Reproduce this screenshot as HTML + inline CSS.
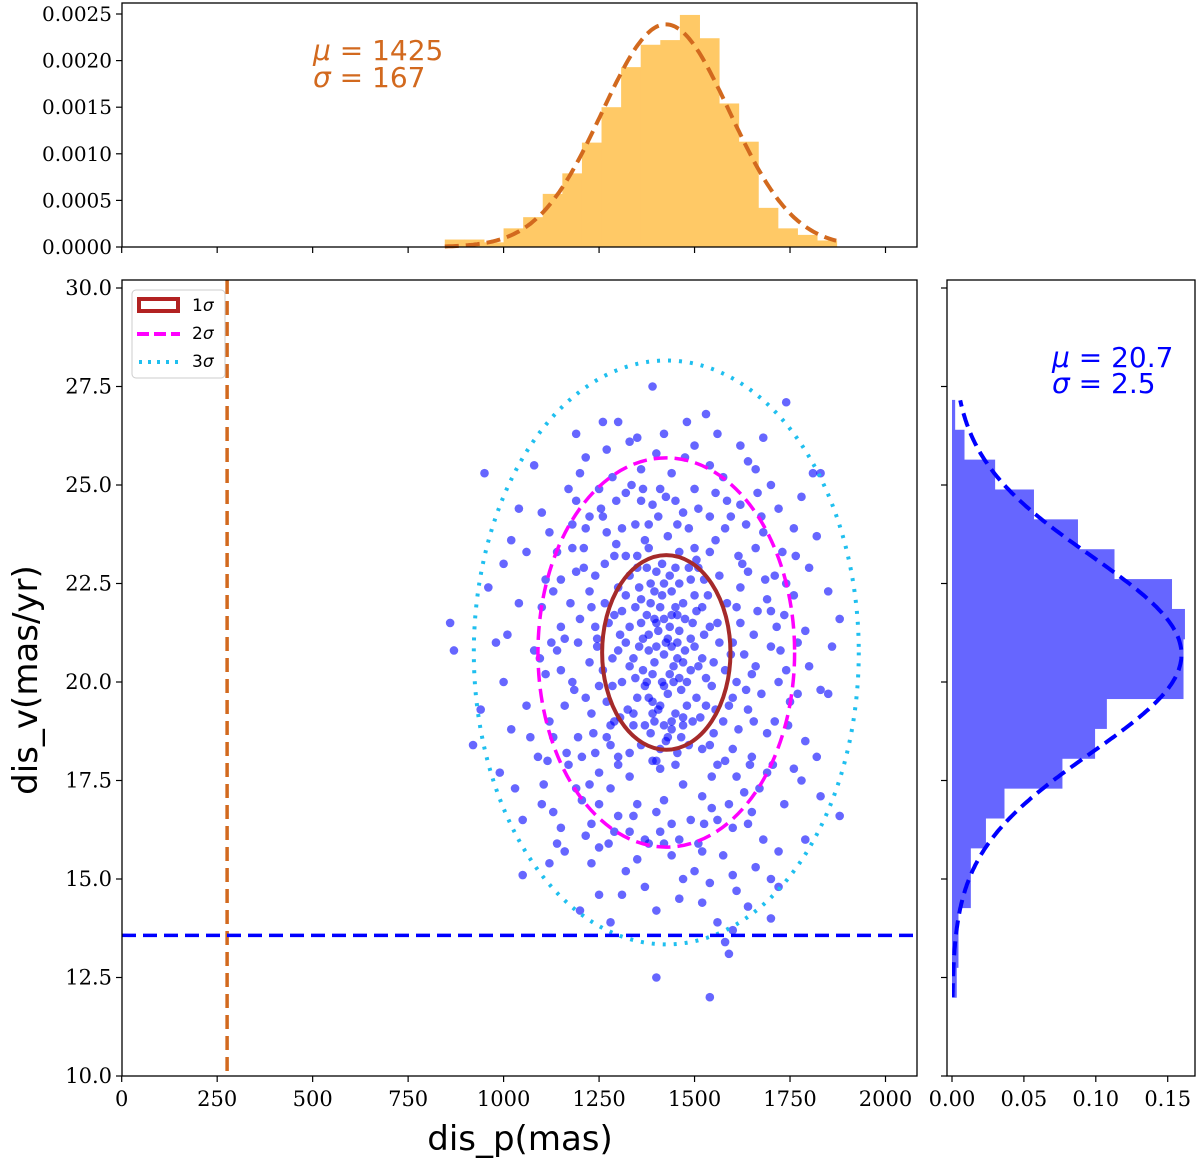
<!DOCTYPE html>
<html><head><meta charset="utf-8"><style>
html,body{margin:0;padding:0;background:#fff;}
.serif{font-family:"DejaVu Serif","Liberation Serif",serif;}
.sans{font-family:"DejaVu Sans","Liberation Sans",sans-serif;}
</style></head><body>
<svg id="fig" width="1200" height="1165" viewBox="0 0 1200 1165" xmlns="http://www.w3.org/2000/svg">
<defs>
<clipPath id="clipMain"><rect x="122" y="280" width="795" height="796"/></clipPath>
<clipPath id="clipTop"><rect x="122" y="3" width="795" height="244"/></clipPath>
<clipPath id="clipRight"><rect x="952" y="280" width="243" height="796"/></clipPath>
</defs>
<g id="topG"></g>
<g id="mainG"></g>
<g id="rightG"></g>
</svg>
<script>
// ---------------- data ----------------
const xTicks=[0,250,500,750,1000,1250,1500,1750,2000];
const yTicks=[10.0,12.5,15.0,17.5,20.0,22.5,25.0,27.5,30.0];
const topTicks=[0,0.0005,0.0010,0.0015,0.0020,0.0025];
const rightTicks=[0,0.05,0.10,0.15];
const topBinStart=846, topBinWidth=51.3;
const topHist=[0.00008,0.00008,0.00005,0.0002,0.00032,0.00057,0.00079,0.00112,0.0015,0.00193,0.00217,0.00222,0.00249,0.00224,0.00154,0.00113,0.00042,0.0002,0.00013,0.00007];
const rightBinStart=12.0, rightBinWidth=0.758;
const rightHist=[0.0033,0.0045,0.0045,0.0131,0.0131,0.0236,0.0365,0.0768,0.0995,0.1077,0.161,0.161,0.162,0.153,0.113,0.0876,0.057,0.030,0.0087,0.0022];
const muP=1425, sigP=167, muV=20.7, sigV=2.5;
const ellCenter=[1426,20.75], ellSemiX=168, ellSemiY=2.47;
const vLineX=276, hLineY=13.57;
const scatterPts=[
[1420,20.7],[1380,21.2],[1460,20.1],[1505,21.8],[1350,19.6],[1440,22.3],[1395,19.0],[1480,19.4],[1330,21.4],[1520,20.6],
[1410,21.9],[1455,21.0],[1365,20.3],[1430,19.7],[1490,22.6],[1310,20.0],[1545,19.9],[1400,22.8],[1470,18.9],[1360,22.1],
[1445,20.4],[1385,18.7],[1500,20.9],[1415,23.0],[1340,18.9],[1560,21.5],[1290,21.7],[1425,18.5],[1475,21.6],[1375,21.7],
[1435,21.4],[1395,20.5],[1465,19.8],[1325,19.3],[1535,22.2],[1405,19.3],[1450,22.9],[1355,20.9],[1515,19.1],[1285,20.6],
[1580,20.3],[1420,22.5],[1370,19.9],[1490,20.3],[1440,18.8],[1300,22.4],[1550,18.7],[1385,22.5],[1460,21.3],[1415,20.0],
[1340,20.6],[1510,22.9],[1430,21.1],[1360,18.4],[1485,18.4],[1400,21.5],[1530,20.1],[1320,21.0],[1470,22.0],[1390,19.5],
[1450,19.2],[1375,22.9],[1525,21.2],[1410,18.3],[1345,21.9],[1495,21.5],[1435,20.2],[1305,19.1],[1565,22.7],[1280,18.9],
[1590,19.4],[1265,22.0],[1420,19.9],[1455,20.6],[1380,20.8],[1505,19.6],[1440,21.7],[1330,22.7],[1470,20.5],[1395,21.6],
[1200,21.6],[1660,20.4],[1230,19.2],[1640,22.8],[1180,23.4],[1690,18.7],[1250,17.7],[1610,17.6],[1150,20.3],[1700,21.8],
[1380,24.0],[1470,24.3],[1420,17.0],[1350,16.9],[1520,17.1],[1260,24.2],[1580,23.9],[1120,19.0],[1720,20.0],[1210,22.9],
[1640,19.3],[1320,24.8],[1500,24.9],[1300,16.6],[1560,16.5],[1170,17.9],[1680,23.8],[1240,18.2],[1620,24.5],[1100,21.9],
[1740,22.5],[1190,24.6],[1670,17.3],[1440,25.3],[1360,25.4],[1410,16.2],[1460,16.0],[1150,22.6],[1710,19.0],[1225,20.5],
[1655,21.2],[1270,23.8],[1590,16.9],[1330,17.6],[1540,24.2],[1130,18.6],[1730,23.3],[1205,17.0],[1615,23.2],[1280,17.3],
[1600,18.3],[1390,24.5],[1485,23.9],[1250,24.9],[1575,25.2],[1160,21.1],[1690,22.1],[1110,20.2],[1750,19.5],[1215,23.9],
[1645,17.9],[1345,24.0],[1525,16.4],[1195,18.6],[1675,24.2],[1295,23.5],[1555,23.6],[1240,21.4],[1630,20.7],[1185,19.8],
[1700,20.9],[1270,19.5],[1610,21.9],[1225,22.3],[1650,18.1],[1300,18.1],[1580,18.0],[1265,23.0],[1620,22.4],[1245,20.9],
[1635,19.8],[1310,23.9],[1545,17.6],[1175,22.0],[1715,21.4],[1400,16.7],[1450,24.6],[1080,20.8],[1770,21.0],[1140,23.3],
[1760,23.9],[1090,18.1],[1760,17.8],[1040,22.0],[1800,20.4],[1100,24.3],[1780,24.7],[1060,19.4],[1790,18.5],[1150,16.3],
[1680,16.0],[1200,25.3],[1640,25.6],[1350,15.5],[1500,15.2],[1420,26.3],[1530,26.8],[1270,25.9],[1600,15.1],[1250,15.8],
[1010,21.2],[1830,19.8],[1030,17.3],[1850,22.3],[1080,25.5],[1810,25.3],[1020,23.6],[1830,17.1],[1120,15.4],[1700,15.0],
[1370,14.8],[1460,14.5],[1310,14.6],[1560,13.9],[1640,14.3],[1200,14.2],[1280,13.9],[1590,13.1],[1540,12.0],[1400,12.5],
[1580,13.4],[1600,13.7],[1700,14.0],[1720,14.8],[1050,15.1],[1160,15.7],[860,21.5],[870,20.8],[950,25.3],[940,19.3],
[920,18.4],[960,22.4],[1880,16.6],[1830,25.3],[1740,27.1],[1390,27.5],[1500,26.0],[1190,26.3],[1260,26.6],[1850,19.7],
[1000,20.0],[990,17.7],[1060,23.3],[1790,21.3],[1780,17.5],[1100,16.9],[1680,26.2],[1620,26.0],[1330,26.1],[1230,16.4],
[1410,17.8],[1470,17.4],[1370,23.6],[1430,23.7],[1500,23.4],[1350,23.2],[1300,17.9],[1560,17.9],[1520,18.3],[1280,18.4],
[1390,18.0],[1450,17.9],[1540,23.3],[1290,23.2],[1600,21.0],[1250,19.9],[1610,20.0],[1245,21.1],[1330,16.2],[1510,15.9],
[1440,15.6],[1380,15.9],[1480,26.6],[1410,24.9],[1360,24.6],[1540,25.5],[1170,24.9],[1700,25.0],[1130,16.7],[1650,16.7],
[1425,21.0],[1390,20.2],[1455,21.7],[1410,19.4],[1475,20.8],[1345,20.1],[1500,22.2],[1360,21.5],[1440,19.0],[1385,22.0],
[1520,21.9],[1310,21.8],[1470,19.1],[1400,20.9],[1435,22.7],[1330,20.4],[1550,20.5],[1370,18.9],[1490,21.1],[1420,18.9],
[1460,22.5],[1300,20.8],[1530,19.4],[1355,22.4],[1445,20.0],[1405,21.3],[1480,20.0],[1340,19.2],[1510,20.4],[1395,22.3],
[1430,18.6],[1365,21.1],[1495,19.0],[1415,22.2],[1285,19.9],[1565,21.0],[1450,21.9],[1375,20.0],[1525,22.6],[1320,22.2],
[1465,18.6],[1390,19.2],[1540,21.4],[1350,22.9],[1420,21.6],[1485,22.9],[1305,21.2],[1555,19.3],[1440,20.9],[1380,19.6],
[1260,20.3],[1595,20.7],[1275,21.5],[1585,22.0],[1290,19.0],[1575,19.0],[1320,23.2],[1505,23.1],[1270,18.6],[1600,19.6],
[1230,21.9],[1620,21.5],[1215,19.6],[1650,20.2],[1240,22.7],[1625,23.0],[1235,18.7],[1615,18.8],[1380,23.4],[1460,23.3],
[1400,18.0],[1455,18.2],[1330,18.2],[1540,18.4],[1195,21.0],[1665,21.8],[1180,20.0],[1675,19.7],[1210,23.4],[1660,23.4],
[1205,18.1],[1655,19.0],[1190,22.8],[1685,22.6],[1225,17.4],[1630,17.2],[1150,21.4],[1725,20.8],[1160,19.4],[1710,22.7],
[1140,20.8],[1735,21.7],[1130,22.3],[1745,18.9],[1165,18.2],[1705,17.9],[1125,21.0],[1740,20.3],[1255,24.4],[1595,24.2],
[1295,24.6],[1555,24.8],[1335,25.0],[1455,24.0],[1405,24.2],[1510,24.4],[1365,24.9],[1425,24.7],[1285,25.2],[1585,24.6],
[1225,24.2],[1635,24.0],[1180,24.0],[1665,24.8],[1250,16.9],[1600,16.3],[1290,16.2],[1545,16.8],[1340,16.6],[1440,16.4],
[1370,16.0],[1490,16.5],[1420,15.9],[1520,15.7],[1275,15.9],[1575,15.6],[1215,16.1],[1640,16.4],[1190,17.3],[1690,17.7],
[1110,22.6],[1760,22.2],[1095,20.6],[1770,19.7],[1115,18.0],[1765,23.2],[1120,23.8],[1720,24.4],[1105,17.4],[1735,16.9],
[1350,26.2],[1475,25.7],[1560,26.3],[1300,26.6],[1215,25.7],[1660,25.4],[1400,25.8],[1540,14.9],[1320,15.2],[1470,15.0],
[1230,15.4],[1660,15.3],[1400,14.2],[1520,14.4],[1250,14.6],[1610,14.7],[1720,15.7],[1140,15.9],[1070,18.6],[1800,22.9],
[1040,24.4],[1820,23.7],[1050,16.5],[1790,16.0],[1000,23.0],[1860,20.9],[1020,18.8],[1820,18.1],[980,21.0],[1880,21.6]
];
// ---------------- helpers ----------------
const NS="http://www.w3.org/2000/svg";
function mk(tag,attrs,parent){const e=document.createElementNS(NS,tag);for(const k in attrs)e.setAttribute(k,attrs[k]);parent.appendChild(e);return e;}
const L=122,R=917,MT=280,MB=1076;
const sx=v=>121.7+v*(885.5-121.7)/2000;
const sy=v=>1076-(v-10)*(1076-288)/20;
const ty=v=>247-v*(247-14)/0.0025;
const rx=v=>952+v*(1167.7-952)/0.15;
const topG=document.getElementById('topG'),mainG=document.getElementById('mainG'),rightG=document.getElementById('rightG');

// ---------------- top histogram ----------------
const topBars=mk('g',{'clip-path':'url(#clipTop)'},topG);


topHist.forEach((h,i)=>{
  const x0=sx(topBinStart+i*topBinWidth),x1=sx(topBinStart+(i+1)*topBinWidth);
  const r=mk('rect',{x:x0,y:ty(h),width:x1-x0+0.5,height:247-ty(h),fill:'#ffc966'},topBars);
  
  
});
let d='';
for(let v=topBinStart;v<=topBinStart+20*topBinWidth;v+=5){const p=Math.exp(-0.5*((v-muP)/sigP)**2)/(sigP*Math.sqrt(2*Math.PI));d+=(d?'L':'M')+sx(v).toFixed(1)+','+ty(p).toFixed(1);}
const tc=mk('path',{d:d,fill:'none',stroke:'#d2691e','stroke-width':4,'stroke-dasharray':'14,7'},topG);


const tf=mk('rect',{x:L,y:3,width:R-L,height:244,fill:'none',stroke:'#000','stroke-width':1.3},topG);


topTicks.forEach(v=>{
  mk('line',{x1:L-6,x2:L,y1:ty(v),y2:ty(v),stroke:'#000','stroke-width':1.2},topG);
  const t=mk('text',{x:L-10,y:ty(v)+7,'text-anchor':'end','font-size':20,class:'serif'},topG);
  t.textContent=v.toFixed(4);
  
  
});
xTicks.forEach(v=>mk('line',{x1:sx(v),x2:sx(v),y1:247,y2:253,stroke:'#000','stroke-width':1.2},topG));
const tl1=mk('text',{x:313,y:60,'font-size':28,fill:'#d2691e',class:'sans'},topG);
tl1.innerHTML='<tspan font-style="italic">μ</tspan> = 1425';


const tl2=mk('text',{x:313,y:87,'font-size':28,fill:'#d2691e',class:'sans'},topG);
tl2.innerHTML='<tspan font-style="italic">σ</tspan> = 167';



// ---------------- main scatter ----------------
const pl=mk('g',{'clip-path':'url(#clipMain)'},mainG);
scatterPts.forEach(p=>{
  const c=mk('circle',{cx:sx(p[0]),cy:sy(p[1]),r:4.3,fill:'#0000ff','fill-opacity':0.6},pl);
  
  
});
const ellStyles=[
  {k:3,stroke:'#1fbfef',w:4,dash:'3,8',name:'ellipse-3sigma'},
  {k:2,stroke:'#ff00ff',w:3.5,dash:'14,7',name:'ellipse-2sigma'},
  {k:1,stroke:'#a52a2a',w:4,dash:'none',name:'ellipse-1sigma'}];
ellStyles.forEach(s=>{
  const e=mk('ellipse',{cx:sx(ellCenter[0]),cy:sy(ellCenter[1]),rx:sx(ellCenter[0]+s.k*ellSemiX)-sx(ellCenter[0]),ry:sy(ellCenter[1])-sy(ellCenter[1]+s.k*ellSemiY),fill:'none',stroke:s.stroke,'stroke-width':s.w,'stroke-dasharray':s.dash},pl);
  
  
});
const vl=mk('line',{x1:sx(vLineX),x2:sx(vLineX),y1:MT,y2:MB,stroke:'#d2691e','stroke-width':3.5,'stroke-dasharray':'14,7'},pl);


const hl=mk('line',{x1:L,x2:R,y1:sy(hLineY),y2:sy(hLineY),stroke:'#0000ff','stroke-width':3.5,'stroke-dasharray':'14,7'},pl);


const mf=mk('rect',{x:L,y:MT,width:R-L,height:MB-MT,fill:'none',stroke:'#000','stroke-width':1.3},mainG);


xTicks.forEach(v=>{
  mk('line',{x1:sx(v),x2:sx(v),y1:MB,y2:MB+6,stroke:'#000','stroke-width':1.2},mainG);
  const t=mk('text',{x:sx(v),y:MB+30,'text-anchor':'middle','font-size':21,class:'serif'},mainG);
  t.textContent=v;
  
  
});
yTicks.forEach(v=>{
  mk('line',{x1:L-6,x2:L,y1:sy(v),y2:sy(v),stroke:'#000','stroke-width':1.2},mainG);
  const t=mk('text',{x:L-10,y:sy(v)+7,'text-anchor':'end','font-size':21,class:'serif'},mainG);
  t.textContent=v.toFixed(1);
  
  
});
const xt=mk('text',{x:520,y:1150,'text-anchor':'middle','font-size':34,class:'sans'},mainG);
xt.textContent='dis_p(mas)';


const yt=mk('text',{x:0,y:0,'text-anchor':'middle','font-size':34,class:'sans',transform:'translate(37,680) rotate(-90)'},mainG);
yt.textContent='dis_v(mas/yr)';


// legend
const lg=mk('g',{},mainG);


mk('rect',{x:132,y:290,width:93,height:88,rx:4,fill:'#fff',stroke:'#ccc','stroke-width':1},lg);
mk('rect',{x:139,y:299,width:39,height:12,fill:'none',stroke:'#b22222','stroke-width':4},lg);
mk('line',{x1:137,x2:180,y1:334,y2:334,stroke:'#ff00ff','stroke-width':4,'stroke-dasharray':'12,5'},lg);
mk('line',{x1:139,x2:180,y1:362,y2:362,stroke:'#1fbfef','stroke-width':4,'stroke-dasharray':'3,6'},lg);
[['1',311],['2',339],['3',367]].forEach(a=>{
  const t=mk('text',{x:192,y:a[1],'font-size':17,class:'sans'},lg);
  t.innerHTML=a[0]+'<tspan font-style="italic">σ</tspan>';
  
  
});

// ---------------- right histogram ----------------
const rb=mk('g',{'clip-path':'url(#clipRight)'},rightG);


rightHist.forEach((h,i)=>{
  const y0=sy(rightBinStart+(i+1)*rightBinWidth),y1=sy(rightBinStart+i*rightBinWidth);
  const r=mk('rect',{x:952,y:y0,width:rx(h)-952,height:y1-y0+0.5,fill:'#6666ff'},rb);
  
  
});
d='';
for(let v=rightBinStart;v<=rightBinStart+20*rightBinWidth;v+=0.05){const p=Math.exp(-0.5*((v-muV)/sigV)**2)/(sigV*Math.sqrt(2*Math.PI));d+=(d?'L':'M')+rx(p).toFixed(1)+','+sy(v).toFixed(1);}
const rc=mk('path',{d:d,fill:'none',stroke:'#0000ff','stroke-width':4,'stroke-dasharray':'14,7'},rb);


const rf=mk('rect',{x:947,y:MT,width:1195-947,height:MB-MT,fill:'none',stroke:'#000','stroke-width':1.3},rightG);


yTicks.forEach(v=>mk('line',{x1:941,x2:947,y1:sy(v),y2:sy(v),stroke:'#000','stroke-width':1.2},rightG));
rightTicks.forEach(v=>{
  mk('line',{x1:rx(v),x2:rx(v),y1:MB,y2:MB+6,stroke:'#000','stroke-width':1.2},rightG);
  const t=mk('text',{x:rx(v),y:MB+30,'text-anchor':'middle','font-size':21,class:'serif'},rightG);
  t.textContent=v.toFixed(2);
  
  
});
const rl1=mk('text',{x:1052,y:367,'font-size':28,fill:'#0000ff',class:'sans'},rightG);
rl1.innerHTML='<tspan font-style="italic">μ</tspan> = 20.7';


const rl2=mk('text',{x:1052,y:393,'font-size':28,fill:'#0000ff',class:'sans'},rightG);
rl2.innerHTML='<tspan font-style="italic">σ</tspan> = 2.5';


</script>
</body></html>
